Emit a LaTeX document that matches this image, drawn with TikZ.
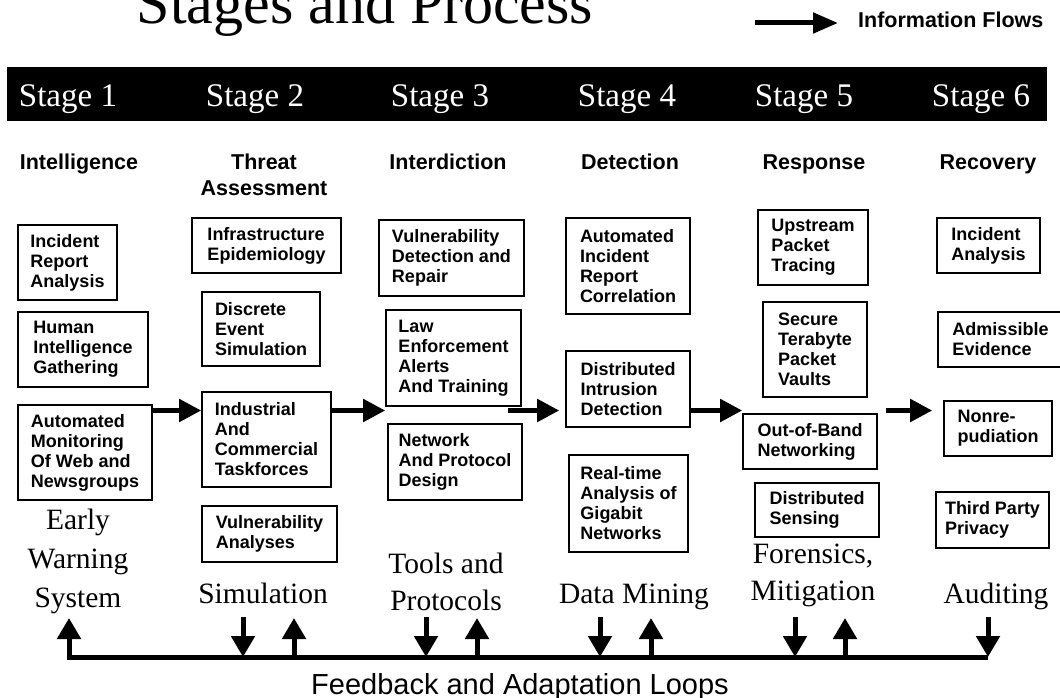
\documentclass[tikz,border=0pt]{standalone}
\usepackage{fontspec}
\setmainfont{Liberation Serif}
\setsansfont{Liberation Sans}
\usetikzlibrary{arrows.meta}

\tikzset{
  box/.style={draw, line width=1.6pt, inner sep=0pt, align=left,
    font=\sffamily\bfseries\fontsize{18}{20}\selectfont},
  category/.style={anchor=base, inner sep=0pt, align=center,
    font=\sffamily\bfseries\fontsize{21.5}{26}\selectfont},
  stagelbl/.style={anchor=base, inner sep=0pt, text=white,
    font=\fontsize{33}{33}\selectfont},
  outcome/.style={anchor=base, inner sep=0pt, align=center,
    font=\fontsize{29.5}{37}\selectfont},
  flow/.style={line width=5pt, -{Triangle[length=22pt,width=22pt]}},
  fb/.style={line width=5pt, -{Triangle[length=21pt,width=23pt]}},
}

\begin{document}
\begin{tikzpicture}[x=1pt, y=-1pt]
\useasboundingbox (0,0) rectangle (1060,698);
\clip (0,0) rectangle (1060,698);

% title and legend
\node[anchor=base, inner sep=0pt, font=\fontsize{60}{60}\selectfont] (title) at (365,24) {Stages and Process};
\node[anchor=base west, inner sep=0pt, font=\sffamily\bfseries\fontsize{21.5}{22}\selectfont] (legend) at (858,28) {Information Flows};
\coordinate (legstart) at (755,23);
\draw[line width=5pt, -{Triangle[length=25pt,width=20pt]}, shorten >=20pt] (legstart) -- (legend.west |- legstart);

% stage bar
\fill[black] (7,67) rectangle (1047,121);
\node[stagelbl] (s1) at (68,107) {Stage 1};
\node[stagelbl] (s2) at (255,107) {Stage 2};
\node[stagelbl] (s3) at (440,107) {Stage 3};
\node[stagelbl] (s4) at (627,107) {Stage 4};
\node[stagelbl] (s5) at (804,107) {Stage 5};
\node[stagelbl] (s6) at (981,107) {Stage 6};

% stage names (a multi-line node sits on its last baseline)
\node[category] (c1) at (79,169) {Intelligence};
\node[category] (c2) at (264,195) {Threat\\Assessment};
\node[category] (c3) at (448,169) {Interdiction};
\node[category] (c4) at (630,169) {Detection};
\node[category] (c5) at (814,169) {Response};
\node[category] (c6) at (988,169) {Recovery};

% stage 1
\node[box, minimum width=99pt,  minimum height=75pt] (ira)  at (67.5,262.5) {Incident\\Report\\Analysis};
\node[box, minimum width=130pt, minimum height=75pt] (hig)  at (83,349.5)   {Human\\Intelligence\\Gathering};
\node[box, minimum width=134pt, minimum height=95pt] (amw)  at (85,452.5)   {Automated\\Monitoring\\Of Web and\\Newsgroups};
% stage 2
\node[box, minimum width=149pt, minimum height=55pt] (ie)   at (266.5,245.5) {Infrastructure\\Epidemiology};
\node[box, minimum width=118pt, minimum height=74pt] (des)  at (261,329)     {Discrete\\Event\\Simulation};
\node[box, minimum width=129pt, minimum height=95pt] (ict)  at (266.5,439.5) {Industrial\\And\\Commercial\\Taskforces};
\node[box, minimum width=135pt, minimum height=56pt] (va)   at (269.5,534)   {Vulnerability\\Analyses};
% stage 3
\node[box, minimum width=145pt, minimum height=76pt] (vdr)  at (451.5,258) {Vulnerability\\Detection and\\Repair};
\node[box, minimum width=135pt, minimum height=96pt] (lea)  at (453.5,358) {Law\\Enforcement\\Alerts\\And Training};
\node[box, minimum width=134pt, minimum height=76pt] (npd)  at (455,462)   {Network\\And Protocol\\Design};
% stage 4
\node[box, minimum width=124pt, minimum height=96pt] (airc) at (628,266)     {Automated\\Incident\\Report\\Correlation};
\node[box, minimum width=124pt, minimum height=76pt] (did)  at (628,389)     {Distributed\\Intrusion\\Detection};
\node[box, minimum width=119pt, minimum height=97pt] (rta)  at (628.5,503.5) {Real-time\\Analysis of\\Gigabit\\Networks};
% stage 5
\node[box, minimum width=110pt, minimum height=75pt] (upt)  at (813,247.5) {Upstream\\Packet\\Tracing};
\node[box, minimum width=104pt, minimum height=95pt] (stp)  at (815,349.5) {Secure\\Terabyte\\Packet\\Vaults};
\node[box, minimum width=134pt, minimum height=55pt] (oob)  at (810,441.5) {Out-of-Band\\Networking};
\node[box, minimum width=124pt, minimum height=54pt] (ds)   at (817,510)   {Distributed\\Sensing};
% stage 6
\node[box, minimum width=103pt, minimum height=55pt] (ia)   at (988.5,245.5)  {Incident\\Analysis};
\node[box, minimum width=125pt, minimum height=55pt] (ae)   at (1000.5,339.5) {Admissible\\Evidence};
\node[box, minimum width=108pt, minimum height=55pt] (nr)   at (998,428.5)    {Nonre-\\pudiation};
\node[box, minimum width=113pt, minimum height=56pt] (tpp)  at (992.5,520)    {Third Party\\Privacy};

% outcomes
\node[outcome, font=\fontsize{29.5}{39}\selectfont] (o1) at (78,607) {Early\\Warning\\System};
\node[outcome] (o2) at (263,603) {Simulation};
\node[outcome] (o3) at (446,610) {Tools and\\Protocols};
\node[outcome] (o4) at (634,603) {Data Mining};
\node[outcome] (o5) at (813,600) {Forensics,\\Mitigation};
\node[outcome] (o6) at (996,603) {Auditing};

% information flows between stages
\coordinate (flowline) at (0,410.5);
\coordinate (f3start) at (508,410.5);
\draw[flow] (amw.east |- flowline) -- (ict.west |- flowline);
\draw[flow] (ict.east |- flowline) -- (lea.west |- flowline);
\draw[flow, shorten >=6pt] (f3start) -- (did.west |- flowline);
\draw[flow] (did.east |- flowline) -- (oob.west |- flowline);
\draw[flow, shorten <=8pt, shorten >=11pt] (oob.east |- flowline) -- (nr.west |- flowline);

% feedback and adaptation loops
\coordinate (fbL) at (69,657);
\coordinate (fbR) at (988,657);
\draw[fb] (fbR) -- (fbL) -- ++(0,-39);
\foreach \x/\n in {243/a,426/b,600/c,795/d,988/e}{
  \coordinate (down\n) at (\x,617);
  \draw[fb] (down\n) -- (down\n |- fbL);
}
\foreach \x/\n in {294/a,477/b,651/c,845/d}{
  \coordinate (up\n) at (\x,657);
  \draw[fb] (up\n) -- ++(0,-39);
}
\node[anchor=base, inner sep=0pt, font=\sffamily\fontsize{29}{29}\selectfont] (fbtext) at (520,694) {Feedback and Adaptation Loops};
\end{tikzpicture}
\end{document}
